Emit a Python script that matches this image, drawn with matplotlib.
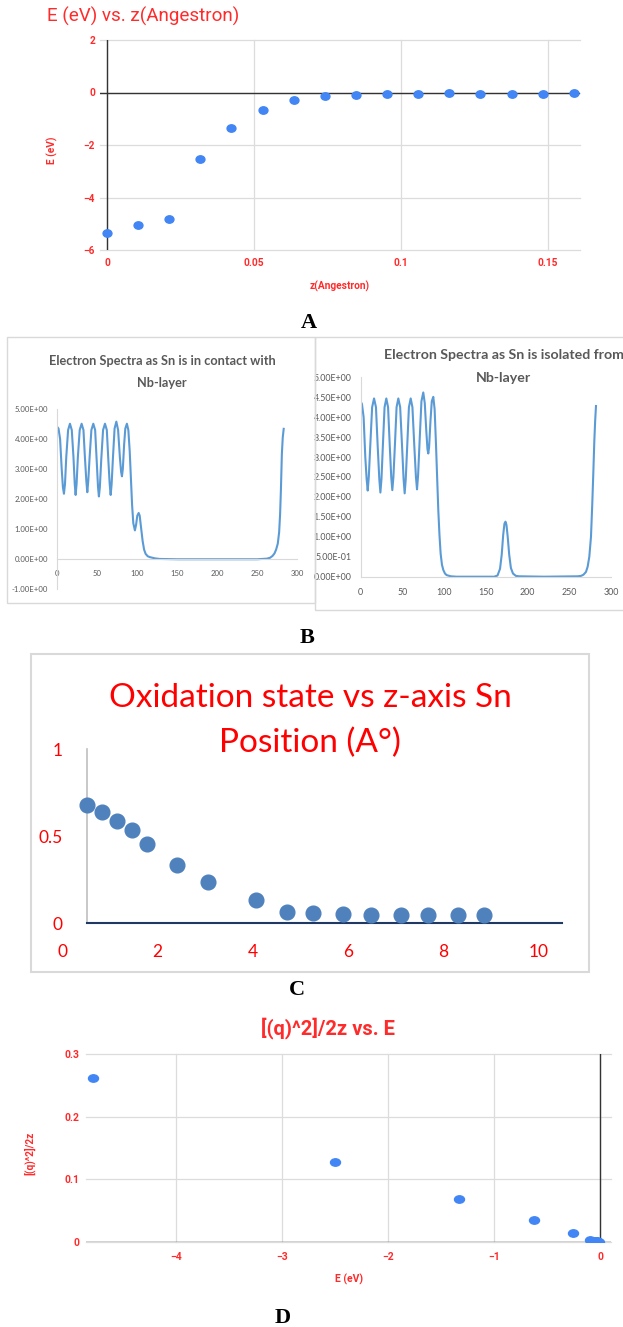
import matplotlib
matplotlib.use("Agg")
import matplotlib.pyplot as plt
from matplotlib.path import Path
from matplotlib.markers import MarkerStyle
from matplotlib.transforms import Affine2D
from matplotlib.patches import Rectangle

plt.rcParams['font.family'] = ['Roboto', 'DejaVu Sans']

# ---- data ----
# A: E vs z
z_a = [0, 0.0106, 0.0212, 0.0317, 0.0423, 0.0529, 0.0635, 0.0741,
       0.0847, 0.0952, 0.1058, 0.1164, 0.1270, 0.1376, 0.1482, 0.1587]
e_a = [-5.34, -5.05, -4.80, -2.52, -1.35, -0.66, -0.29, -0.13,
       -0.08, -0.05, -0.04, -0.03, -0.05, -0.04, -0.04, -0.01]
a_xticks = [0, 0.05, 0.1, 0.15]
a_xlabels = ['0', '0.05', '0.1', '0.15']
a_yticks = [-6, -4, -2, 0, 2]

# B: electron spectra, Sn in contact with Nb-layer
x_bl = [0, 1.5, 3.5, 5.5, 7, 8.3, 9.6, 11.2, 13.5, 15.8, 18.1, 20.2, 21.8,
        22.9, 24.1, 25.7, 28, 30.4, 32.7, 34.5, 36.3, 37.5, 38.7, 40.4, 42.6,
        45, 47.3, 49.2, 50.9, 52, 53.2, 54.9, 57.2, 59.6, 61.9, 63.8, 65.5,
        66.7, 67.9, 69.6, 71.6, 73.8, 76, 78.2, 79.8, 80.8, 81.9, 83.5, 85, 87,
        88.8, 90.5, 92, 93.5, 95, 97, 98.5, 100, 101.7, 103, 104.5, 106.7,
        108.5, 110.4, 113, 115.8, 122, 128, 150, 200, 250, 262, 266, 269,
        271.4, 273.5, 275.6, 277.3, 278.5, 279.5, 280.7, 281.8, 283]
y_bl = [4.40, 4.35, 4.00, 3.00, 2.40, 2.18, 2.50, 3.40, 4.30, 4.51, 4.30, 3.40,
        2.50, 2.14, 2.50, 3.40, 4.30, 4.51, 4.30, 3.40, 2.60, 2.23, 2.60, 3.40,
        4.30, 4.51, 4.30, 3.30, 2.40, 2.09, 2.40, 3.30, 4.30, 4.51, 4.30, 3.30,
        2.50, 2.14, 2.50, 3.40, 4.35, 4.58, 4.30, 3.40, 2.90, 2.76, 3.00, 3.80,
        4.35, 4.51, 4.30, 3.60, 2.70, 1.80, 1.20, 0.96, 1.15, 1.45, 1.54, 1.45,
        1.10, 0.60, 0.32, 0.18, 0.10, 0.07, 0.03, 0.01, 0, 0, 0, 0.02, 0.05,
        0.11, 0.19, 0.32, 0.52, 0.90, 1.50, 2.30, 3.50, 4.05, 4.34]
# B: electron spectra, Sn isolated from Nb-layer
x_br = [0, 1.5, 3.5, 5.5, 7.1, 8.4, 9.7, 11.5, 13.7, 16, 18.3, 20.3, 22.3, 23.6,
        24.9, 26.6, 28.6, 30.7, 32.8, 34.8, 36.6, 37.9, 39.2, 41, 43, 45.1,
        47.3, 49.5, 51.4, 52.7, 54, 55.8, 57.8, 59.9, 62, 64.2, 66.2, 67.5,
        68.8, 70.6, 72.8, 75, 76.8, 78.5, 80, 81, 82, 83.6, 85.2, 87, 88.6,
        90.2, 91.6, 93, 94.4, 95.8, 97.4, 99, 101, 103, 108, 115, 140, 160,
        164, 167, 169, 170.8, 172.3, 173.5, 174.7, 176.2, 178, 180, 182.5, 186,
        190, 220, 260, 264, 267, 270, 272, 274, 276, 277.5, 278.8, 280, 281,
        282]
y_br = [4.39, 4.33, 4.00, 3.00, 2.45, 2.16, 2.50, 3.30, 4.25, 4.47, 4.25, 3.30,
        2.45, 2.11, 2.45, 3.30, 4.25, 4.47, 4.25, 3.30, 2.50, 2.17, 2.50, 3.30,
        4.25, 4.47, 4.25, 3.30, 2.45, 2.09, 2.45, 3.30, 4.25, 4.47, 4.25, 3.30,
        2.50, 2.19, 2.55, 3.40, 4.40, 4.62, 4.35, 3.70, 3.20, 3.09, 3.25, 3.90,
        4.40, 4.51, 4.20, 3.34, 2.50, 1.67, 1.05, 0.58, 0.30, 0.17, 0.08, 0.04,
        0.01, 0, 0, 0, 0.03, 0.20, 0.55, 1.05, 1.33, 1.38, 1.30, 1.00, 0.55,
        0.22, 0.08, 0.02, 0.01, 0, 0.01, 0.02, 0.05, 0.12, 0.25, 0.50, 1.00,
        1.80, 2.60, 3.40, 3.90, 4.28]
bl_yticks = [-1, 0, 1, 2, 3, 4, 5]
bl_ylabels = ['-1.00E+00', '0.00E+00', '1.00E+00', '2.00E+00', '3.00E+00',
              '4.00E+00', '5.00E+00']
br_yticks = [0, 0.5, 1, 1.5, 2, 2.5, 3, 3.5, 4, 4.5, 5]
br_ylabels = ['0.00E+00', '5.00E-01', '1.00E+00', '1.50E+00', '2.00E+00',
              '2.50E+00', '3.00E+00', '3.50E+00', '4.00E+00', '4.50E+00',
              '5.00E+00']
b_xticks = [0, 50, 100, 150, 200, 250, 300]

# C: oxidation state vs z
x_c = [0.525, 0.84, 1.155, 1.47, 1.785, 2.415, 3.05, 4.07, 4.71, 5.27, 5.90,
       6.48, 7.11, 7.68, 8.31, 8.85]
y_c = [0.679, 0.641, 0.589, 0.533, 0.455, 0.337, 0.235, 0.136, 0.067, 0.057,
       0.052, 0.048, 0.048, 0.047, 0.047, 0.047]
c_xticks = [0, 2, 4, 6, 8, 10]
c_yticks = [0, 0.5, 1]
c_ylabels = ['0', '0.5', '1']

# D: q^2/2z vs E
e_d = [-4.79, -2.50, -1.33, -0.63, -0.26, -0.10, -0.07, -0.05, -0.04, -0.03,
       -0.02, -0.01]
q_d = [0.261, 0.128, 0.0686, 0.0346, 0.0144, 0.0032, 0.0022, 0.0016, 0.0012,
       0.0009, 0.0006, 0.0003]
d_xticks = [-4, -3, -2, -1, 0]
d_yticks = [0, 0.1, 0.2, 0.3]
d_ylabels = ['0', '0.1', '0.2', '0.3']

W, H = 623, 1327
fig = plt.figure(figsize=(W / 100, H / 100), dpi=100)

RED = '#ff2b2b'
GBLUE = '#4285f4'
GRAY = '#595959'


def box(l, t, r, b):
    return [l / W, 1 - b / H, (r - l) / W, (b - t) / H]


def ftext(x, y, s, **kw):
    return fig.text(x / W, 1 - y / H, s, **kw)


def frame(l, t, r, b, lw=1.0):
    fig.add_artist(Rectangle((l / W, 1 - b / H), (r - l) / W, (b - t) / H,
                             transform=fig.transFigure, fill=False,
                             ec='#d9d9d9', lw=lw))


def oval(stretch):
    return MarkerStyle(Path.unit_circle().transformed(Affine2D().scale(stretch, 1)))


def google_style(ax):
    for s in ax.spines.values():
        s.set_visible(False)
    ax.grid(True, color='#dcdcdc', lw=0.9)
    for gl in ax.get_xgridlines() + ax.get_ygridlines():
        gl.set_clip_on(False)
    ax.axhline(0, color='#333333', lw=1.0, zorder=2)
    ax.axvline(0, color='#333333', lw=1.0, zorder=2)
    ax.set_axisbelow(True)


# ---------- A ----------
ax = fig.add_axes(box(100, 40, 580, 250))
google_style(ax)
ax.plot(z_a, e_a, ls='none', marker=oval(1.2), ms=6.4, color=GBLUE, zorder=3)
ax.set_xlim(-0.0024, 0.1609)
ax.set_ylim(-6, 2)
ax.set_xticks(a_xticks, a_xlabels)
ax.set_yticks(a_yticks)
ax.tick_params(length=0, labelcolor=RED, labelsize=7.3)
ax.tick_params(axis='x', pad=6)
ax.tick_params(axis='y', pad=3.5)
for lab in ax.get_xticklabels() + ax.get_yticklabels():
    lab.set_fontweight('bold')
ftext(47, 16, 'E (eV) vs. z(Angestron)', color=RED, fontsize=13.6,
      ha='left', va='center')
ftext(340, 286, 'z(Angestron)', color=RED, fontsize=7.3, fontweight='bold',
      ha='center', va='center')
ftext(52, 150, 'E (eV)', color=RED, fontsize=7.3, fontweight='bold',
      ha='center', va='center', rotation=90)
ftext(309, 323, 'A', fontsize=16, fontweight='bold', family='Liberation Serif',
      ha='center', va='center')

# ---------- B ----------
frame(7, 337, 315, 603)
frame(315, 337, 640, 610)

ax = fig.add_axes(box(57.3, 409, 297.3, 589.3))
ax.plot(x_bl, y_bl, color='#5b9bd5', lw=1.5)
ax.set_xlim(0, 300)
ax.set_ylim(-1, 5)
ax.set_xticks(b_xticks)
ax.set_yticks(bl_yticks, bl_ylabels)
for s in ['top', 'right']:
    ax.spines[s].set_visible(False)
ax.spines['bottom'].set_position(('data', 0))
ax.spines['left'].set_color('#d9d9d9')
ax.spines['bottom'].set_color('#d9d9d9')
ax.tick_params(length=0, labelcolor=GRAY, labelsize=5.6)
ax.tick_params(axis='x', pad=8)
ax.tick_params(axis='y', pad=6.5)
for lab in ax.get_xticklabels() + ax.get_yticklabels():
    lab.set_family('Lato')
ftext(162, 361, 'Electron Spectra as Sn is in contact with', color=GRAY,
      fontsize=9.2, family='Lato', fontweight='bold', ha='center', va='center')
ftext(162, 383, 'Nb-layer', color=GRAY, fontsize=9.2, family='Lato',
      fontweight='bold', ha='center', va='center')

ax = fig.add_axes(box(360.7, 377.3, 611, 576.7))
ax.plot(x_br, y_br, color='#5b9bd5', lw=1.5)
ax.set_xlim(0, 300)
ax.set_ylim(0, 5)
ax.set_xticks(b_xticks)
ax.set_yticks(br_yticks, br_ylabels)
for s in ['top', 'right']:
    ax.spines[s].set_visible(False)
ax.spines['left'].set_color('#d9d9d9')
ax.spines['bottom'].set_color('#d9d9d9')
ax.tick_params(length=0, labelcolor=GRAY, labelsize=6.4)
ax.tick_params(axis='x', pad=8)
ax.tick_params(axis='y', pad=6.5)
for lab in ax.get_xticklabels() + ax.get_yticklabels():
    lab.set_family('Lato')
ftext(503.7, 355, 'Electron Spectra as Sn is isolated from', color=GRAY,
      fontsize=10.2, family='Lato', fontweight='bold', ha='center', va='center')
ftext(503.7, 378, 'Nb-layer', color=GRAY, fontsize=10.2, family='Lato',
      fontweight='bold', ha='center', va='center')
ftext(307, 638, 'B', fontsize=16, fontweight='bold', family='Liberation Serif',
      ha='center', va='center')

# ---------- C ----------
frame(31, 654, 589, 972, lw=1.5)
ax = fig.add_axes(box(62.3, 749, 562.3, 923.3))
ax.scatter(x_c, y_c, s=112, color='#4f81bd', zorder=3, clip_on=False)
ax.set_xlim(0, 10.5)
ax.set_ylim(0, 1)
ax.set_xticks(c_xticks)
ax.set_yticks(c_yticks, c_ylabels)
for s in ['top', 'right']:
    ax.spines[s].set_visible(False)
ax.spines['left'].set_position(('data', 0.525))
ax.spines['left'].set_color('#bfbfbf')
ax.spines['left'].set_linewidth(1.2)
ax.spines['bottom'].set_bounds(0.525, 10.5)
ax.spines['bottom'].set_color('#1f3864')
ax.spines['bottom'].set_linewidth(1.5)
ax.tick_params(length=0, labelcolor='red', labelsize=12.5)
ax.tick_params(axis='x', pad=15)
ax.tick_params(axis='y', pad=18)
for lab in ax.get_xticklabels() + ax.get_yticklabels():
    lab.set_family('Lato')
ftext(310, 698, 'Oxidation state vs z-axis Sn', color='red', fontsize=24,
      family='Lato', ha='center', va='center')
ftext(310, 743, 'Position (A°)', color='red', fontsize=24, family='Lato',
      ha='center', va='center')
ftext(297, 990, 'C', fontsize=16, fontweight='bold', family='Liberation Serif',
      ha='center', va='center')

# ---------- D ----------
ax = fig.add_axes(box(86, 1054, 611, 1242))
google_style(ax)
ax.plot(e_d, q_d, ls='none', marker=oval(1.35), ms=7.2, color=GBLUE, zorder=3)
ax.set_xlim(-4.852, 0.1)
ax.set_ylim(0, 0.3)
ax.set_xticks(d_xticks)
ax.set_yticks(d_yticks, d_ylabels)
ax.tick_params(length=0, labelcolor=RED, labelsize=7.5)
ax.tick_params(axis='x', pad=7)
ax.tick_params(axis='y', pad=5)
for lab in ax.get_xticklabels() + ax.get_yticklabels():
    lab.set_fontweight('bold')
ftext(328, 1028, '[(q)^2]/2z vs. E', color=RED, fontsize=14.5,
      fontweight='bold', ha='center', va='center')
ftext(349, 1279, 'E (eV)', color=RED, fontsize=7.5, fontweight='bold',
      ha='center', va='center')
ftext(30, 1153, '[(q)^2]/2z', color=RED, fontsize=7.3, fontweight='bold',
      ha='center', va='center', rotation=90)
ftext(283, 1318, 'D', fontsize=16, fontweight='bold', family='Liberation Serif',
      ha='center', va='center')

fig.savefig('out.png', dpi=100)
